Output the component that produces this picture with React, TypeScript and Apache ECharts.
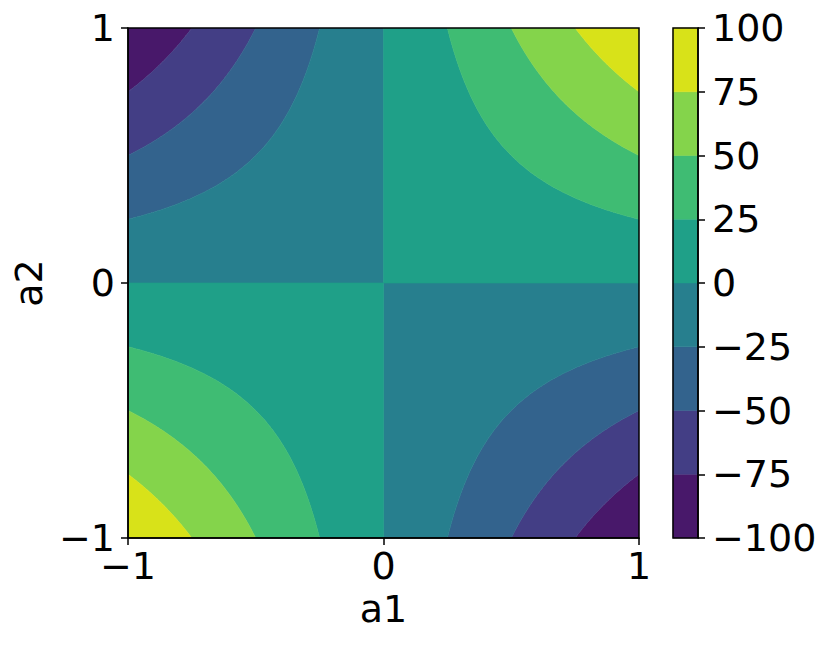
import React, { useEffect, useRef } from 'react';
import * as echarts from 'echarts';

// contour levels of z = 100 * a1 * a2
const levels = [-100, -75, -50, -25, 0, 25, 50, 75, 100];
const bandColors = ['#48186a', '#433e85', '#33638d', '#277f8e', '#1fa088', '#3fbc73', '#84d44b', '#d8e219'];
const a1Ticks = [-1, 0, 1];
const a2Ticks = [-1, 0, 1];
const colorbarTicks = levels;
const zScale = 100;
const curveSamples = 90;

type Pt = [number, number];

function quadrantBand(l: number, h: number, sx: number, sy: number): Pt[] {
  const pts: Pt[] = [];
  if (l <= 0) {
    pts.push([0, 0]);
    pts.push([1, 0]);
  } else {
    for (let i = 0; i <= curveSamples; i++) {
      const x = l + ((1 - l) * i) / curveSamples;
      pts.push([x, l / x]);
    }
  }
  for (let i = 0; i <= curveSamples; i++) {
    const x = 1 - ((1 - h) * i) / curveSamples;
    pts.push([x, h / x]);
  }
  if (l <= 0) pts.push([0, 1]);
  return pts.map(([x, y]) => [sx * x, sy * y] as Pt);
}

const fmt = (v: number) => String(v).replace('-', '\u2212');
const FONT = 'DejaVu Sans';
const FS = 38;

export default function App() {
  const ref = useRef<HTMLDivElement>(null);
  useEffect(() => {
    document.body.style.margin = '0';
    const chart = echarts.init(ref.current!, null, { renderer: 'svg' });

    const bandItems: number[][] = [];
    for (let i = 0; i < levels.length - 1; i++) {
      const lo = levels[i];
      if (lo >= 0) {
        bandItems.push([i, 1, 1], [i, -1, -1]);
      } else {
        bandItems.push([i, -1, 1], [i, 1, -1]);
      }
    }

    const axisCommon = {
      axisLine: { show: true, onZero: false, lineStyle: { color: '#000', width: 1.5 } },
      axisTick: { show: true, inside: false, length: 7, lineStyle: { color: '#000', width: 1.5 } },
      splitLine: { show: false },
      axisLabel: { color: '#000', fontSize: FS, fontFamily: FONT, formatter: fmt },
      nameTextStyle: { color: '#000', fontSize: FS, fontFamily: FONT },
      z: 10,
    };

    chart.setOption({
      animation: false,
      backgroundColor: '#fff',
      grid: [
        { left: 128, top: 28, width: 511, height: 510 },
        { left: 673, top: 28, width: 25, height: 510 },
      ],
      xAxis: [
        {
          ...axisCommon,
          gridIndex: 0,
          type: 'value',
          min: a1Ticks[0],
          max: a1Ticks[a1Ticks.length - 1],
          interval: 1,
          name: 'a1',
          nameLocation: 'middle',
          nameGap: 50,
          axisLabel: { ...axisCommon.axisLabel, margin: 9 },
        },
        { gridIndex: 1, type: 'value', min: 0, max: 1, show: false },
      ],
      yAxis: [
        {
          ...axisCommon,
          gridIndex: 0,
          type: 'value',
          min: a2Ticks[0],
          max: a2Ticks[a2Ticks.length - 1],
          interval: 1,
          name: 'a2',
          nameLocation: 'middle',
          nameGap: 80,
          nameRotate: 90,
          axisLabel: { ...axisCommon.axisLabel, margin: 13 },
        },
        {
          ...axisCommon,
          gridIndex: 1,
          type: 'value',
          position: 'right',
          min: colorbarTicks[0],
          max: colorbarTicks[colorbarTicks.length - 1],
          interval: 25,
          axisLabel: { ...axisCommon.axisLabel, margin: 14 },
        },
      ],
      series: [
        {
          type: 'custom',
          xAxisIndex: 0,
          yAxisIndex: 0,
          clip: true,
          data: bandItems,
          renderItem: (params: any, api: any) => {
            const bi = api.value(0), sx = api.value(1), sy = api.value(2);
            const lo = levels[bi], hi = levels[bi + 1];
            let l: number, h: number;
            if (lo >= 0) { l = lo / zScale; h = hi / zScale; }
            else { l = -hi / zScale; h = -lo / zScale; }
            const pts = quadrantBand(l, h, sx, sy).map((p) => api.coord(p));
            return {
              type: 'polygon',
              shape: { points: pts },
              style: { fill: bandColors[bi], stroke: bandColors[bi], lineWidth: 0.6 },
            };
          },
          z: 2,
        },
        {
          type: 'custom',
          xAxisIndex: 0,
          yAxisIndex: 0,
          data: [[a1Ticks[0], a2Ticks[a2Ticks.length - 1], a1Ticks[a1Ticks.length - 1], a2Ticks[0]]],
          renderItem: (params: any, api: any) => {
            const p1 = api.coord([api.value(0), api.value(1)]);
            const p2 = api.coord([api.value(2), api.value(3)]);
            return {
              type: 'rect',
              shape: { x: p1[0], y: p1[1], width: p2[0] - p1[0], height: p2[1] - p1[1] },
              style: { fill: 'none', stroke: '#000', lineWidth: 1.5 },
            };
          },
          z: 20,
        },
        {
          type: 'custom',
          xAxisIndex: 1,
          yAxisIndex: 1,
          data: bandColors.map((_, i) => [i]),
          renderItem: (params: any, api: any) => {
            const i = api.value(0);
            const p1 = api.coord([0, levels[i + 1]]);
            const p2 = api.coord([1, levels[i]]);
            return {
              type: 'rect',
              shape: { x: p1[0], y: p1[1], width: p2[0] - p1[0], height: p2[1] - p1[1] },
              style: { fill: bandColors[i], stroke: bandColors[i], lineWidth: 0.5 },
            };
          },
          z: 2,
        },
        {
          type: 'custom',
          xAxisIndex: 1,
          yAxisIndex: 1,
          data: [[0, levels[levels.length - 1], 1, levels[0]]],
          renderItem: (params: any, api: any) => {
            const p1 = api.coord([api.value(0), api.value(1)]);
            const p2 = api.coord([api.value(2), api.value(3)]);
            return {
              type: 'rect',
              shape: { x: p1[0], y: p1[1], width: p2[0] - p1[0], height: p2[1] - p1[1] },
              style: { fill: 'none', stroke: '#000', lineWidth: 1.5 },
            };
          },
          z: 20,
        },
      ],
    });
    return () => chart.dispose();
  }, []);
  return <div ref={ref} style={{ width: 831, height: 648, position: 'absolute', left: 0, top: 0 }} />;
}
